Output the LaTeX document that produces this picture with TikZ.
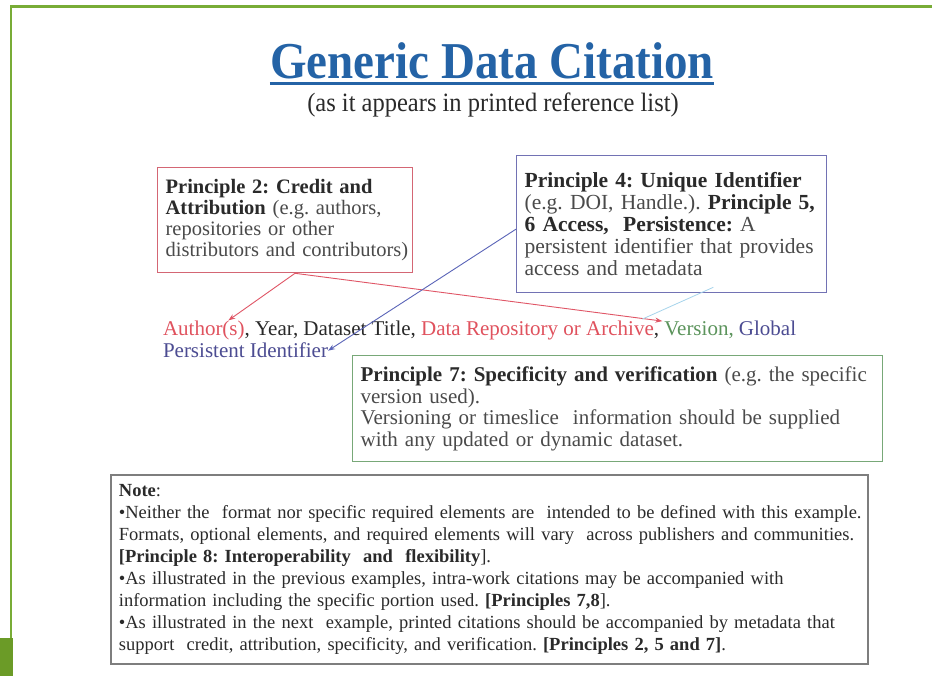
\documentclass[tikz,border=0pt]{standalone}
\usepackage{fontspec}
\setmainfont{Liberation Serif}
\usetikzlibrary{arrows.meta,calc}
\definecolor{frameGreen}{HTML}{78AC36}
\definecolor{blockGreen}{HTML}{6B9B27}
\definecolor{titleBlue}{HTML}{2463A6}
\definecolor{bodyText}{HTML}{2A2A2A}
\definecolor{softText}{HTML}{4A4A4A}
\definecolor{redBorder}{HTML}{D46674}
\definecolor{blueBorder}{HTML}{7272B4}
\definecolor{greenBorder}{HTML}{78A878}
\definecolor{noteBorder}{HTML}{7E7E7E}
\definecolor{citeRed}{HTML}{E0525E}
\definecolor{citeGreen}{HTML}{5C945C}
\definecolor{citeBlue}{HTML}{4C4C92}
\definecolor{arrowRed}{HTML}{E05666}
\definecolor{arrowBlue}{HTML}{5A64B8}
\definecolor{faintCyan}{HTML}{A6D4EC}
\tikzset{
  box/.style={draw, line width=1.3pt, anchor=north west, inner xsep=8pt, inner ysep=0pt, align=left, text=bodyText},
  citepart/.style={inner sep=0pt, outer sep=0pt, anchor=base west, font=\fontsize{21}{22}\selectfont, text=bodyText},
  link/.style={line width=0.9pt, -{Stealth[length=7pt,width=5pt]}},
}
\begin{document}
\frenchspacing
\begin{tikzpicture}[x=1pt,y=-1pt]
\useasboundingbox (0,0) rectangle (932,676);
\fill[white] (0,0) rectangle (932,676);
% green slide frame
\draw[frameGreen, line width=2.6pt] (10,6.5) -- (932,6.5);
\draw[frameGreen, line width=2.6pt] (11,6.5) -- (11,640);
\fill[blockGreen] (0,638) rectangle (13,676);

% title
\node[inner sep=0pt, anchor=base, text=titleBlue, font=\fontsize{47}{50}\selectfont\bfseries] (title) at (492,79) {\scalebox{1}[1.1]{Generic Data Citation}};
\draw[titleBlue, line width=3pt] ($(title.base west)+(0,5)$) -- ($(title.base east)+(0,5)$);
\node[inner sep=0pt, anchor=base, text=bodyText, font=\fontsize{24.5}{26}\selectfont] (subtitle) at (493,112) {\scalebox{1}[1.08]{(as it appears in printed reference list)}};

% principle boxes
\node[box, draw=redBorder, minimum width=255pt, minimum height=105pt, text width=239pt,
      font=\fontsize{20.5}{21}\selectfont] (p2) at (157,167)
  {\mbox{\textbf{Principle 2: Credit and}}\\
   \mbox{\textbf{Attribution} {\color{softText}(e.g. authors,}}\\
   \mbox{\color{softText}repositories or other}\\
   \mbox{\color{softText}distributors and contributors)}};

\node[box, draw=blueBorder, minimum width=310pt, minimum height=137pt, text width=294pt,
      font=\fontsize{21.5}{22}\selectfont] (p4) at (516,155)
  {\mbox{\textbf{Principle 4: Unique Identifier}}\\
   \mbox{{\color{softText}(e.g. DOI, Handle.).} \textbf{Principle 5,}}\\
   \mbox{\textbf{6 Access, \ Persistence:} {\color{softText}A}}\\
   \mbox{\color{softText}persistent identifier that provides}\\
   \mbox{\color{softText}access and metadata}};

\node[box, draw=greenBorder, minimum width=530pt, minimum height=106pt, text width=514pt,
      font=\fontsize{21}{21.5}\selectfont] (p7) at (352,355)
  {\mbox{\textbf{Principle 7: Specificity and verification} {\color{softText}(e.g. the specific}}\\
   \mbox{\color{softText}version used).}\\
   \mbox{\color{softText}Versioning or timeslice \ information should be supplied}\\
   \mbox{\color{softText}with any updated or dynamic dataset.}};

% citation line
\node[citepart, text=citeRed] (auth) at (163,336) {Author(s)};
\node[citepart] (yr) at (auth.base east) {,\ Year, Dataset Title,\ \null};
\node[citepart, text=citeRed] (repo) at (yr.base east) {Data Repository or Archive};
\node[citepart] (c1) at (repo.base east) {,\ \null};
\node[citepart, text=citeGreen] (ver) at (c1.base east) {Version,};
\node[citepart, text=citeBlue] (glob) at (ver.base east) {\ Global};
\node[citepart, text=citeBlue] (pid) at (163,358) {Persistent Identifier};

% connectors
\coordinate (p2out) at ($(p2.south west)+(138,0)$);
\coordinate (authTip) at ($(auth.north west)!0.8!(auth.north east)+(0,-1)$);
\coordinate (verTip) at ($(ver.north west)+(-2,-1)$);
\coordinate (p4out) at ($(p4.west)+(0,5)$);
\coordinate (cyanStart) at ($(p4.south east)+(-114,-6)$);
\coordinate (cyanEnd) at ($(ver.north west)+(-22,-3)$);
\draw[link, arrowRed] (p2out) -- (authTip);
\draw[link, arrowRed] (p2out) -- (verTip);
\draw[link, arrowBlue] (p4out) -- (pid.east);
\draw[faintCyan, line width=0.8pt] (cyanStart) -- (cyanEnd);

% note box
\node[box, draw=noteBorder, line width=1.8pt, minimum width=757pt, minimum height=189pt, text width=741pt,
      font=\fontsize{18.5}{22}\selectfont] (note) at (110,474)
  {\textbf{Note}:\\
   \makebox[730pt][s]{•Neither the \ format nor specific required elements are \ intended to be defined with this example.}\\
   \makebox[727pt][s]{Formats, optional elements, and required elements will vary \ across publishers and communities.}\\
   \textbf{[Principle 8: Interoperability \ and \ flexibility}].\\
   \makebox[662pt][s]{•As illustrated in the previous examples, intra-work citations may be accompanied with}\\
   information including the specific portion used. \textbf{[Principles 7,8}].\\
   \makebox[710pt][s]{•As illustrated in the next \ example, printed citations should be accompanied by metadata that}\\
   support \ credit, attribution, specificity, and verification. \textbf{[Principles 2, 5 and 7]}.};
\end{tikzpicture}
\end{document}
